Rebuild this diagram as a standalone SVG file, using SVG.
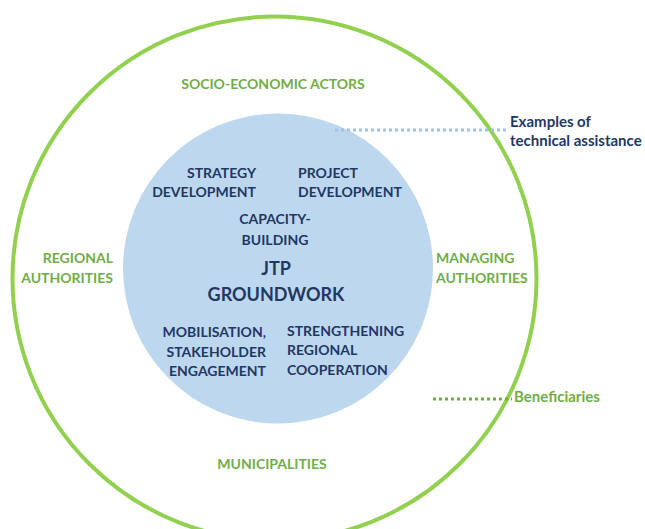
<svg xmlns="http://www.w3.org/2000/svg" width="645" height="529" viewBox="0 0 645 529">
<style>
text{font-family:Lato,"Liberation Sans",sans-serif;font-weight:bold;font-size:14px}
.n{fill:#1F3864}
.g{fill:#70AD47}
.c{text-anchor:middle}
.e{text-anchor:end}
.big{font-size:18px}
.sm{font-size:15px}
</style>
<rect width="645" height="529" fill="#ffffff"/>
<g id="outer-circle"><circle cx="274.5" cy="278.5" r="262" fill="none" stroke="#92D050" stroke-width="4"/></g>
<g id="groundwork"><circle cx="278" cy="268.5" r="155" fill="#BDD7EE"/>
<text class="n c big" x="276" y="275">JTP</text>
<text class="n c big" x="276" y="301">GROUNDWORK</text></g>
<g id="connectors">
<line x1="335" y1="130" x2="506" y2="130" stroke="#9DC3E6" stroke-width="3" stroke-dasharray="3 3"/>
<line x1="433" y1="399" x2="512" y2="399" stroke="#70AD47" stroke-width="3" stroke-dasharray="3 3"/>
</g>
<g id="strategy"><text class="n e" x="256" y="178">STRATEGY</text><text class="n e" x="256" y="197">DEVELOPMENT</text></g>
<g id="project"><text class="n" x="298" y="178">PROJECT</text><text class="n" x="298" y="197">DEVELOPMENT</text></g>
<g id="capacity"><text class="n c" x="275" y="224">CAPACITY-</text><text class="n c" x="275" y="245">BUILDING</text></g>
<g id="mobilisation"><text class="n e" x="266" y="337">MOBILISATION,</text><text class="n e" x="266" y="357">STAKEHOLDER</text><text class="n e" x="266" y="376">ENGAGEMENT</text></g>
<g id="strengthening"><text class="n" x="287" y="336">STRENGTHENING</text><text class="n" x="287" y="355">REGIONAL</text><text class="n" x="287" y="375">COOPERATION</text></g>
<g id="socio"><text class="g c" x="273" y="89">SOCIO-ECONOMIC ACTORS</text></g>
<g id="regional"><text class="g e" x="113" y="263">REGIONAL</text><text class="g e" x="113" y="283">AUTHORITIES</text></g>
<g id="managing"><text class="g" x="436" y="263">MANAGING</text><text class="g" x="436" y="283">AUTHORITIES</text></g>
<g id="municipalities"><text class="g c" x="272" y="469">MUNICIPALITIES</text></g>
<g id="examples"><text class="n sm" x="510" y="127">Examples of</text><text class="n sm" x="510" y="146">technical assistance</text></g>
<g id="beneficiaries"><text class="g sm" x="514" y="402">Beneficiaries</text></g>
</svg>
